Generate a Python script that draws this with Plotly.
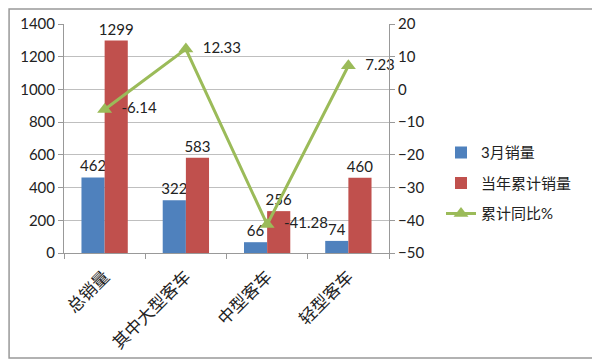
import plotly.graph_objects as go

categories = ["总销量", "其中大型客车", "中型客车", "轻型客车"]
march_sales = [462, 322, 66, 74]
ytd_sales = [1299, 583, 256, 460]
ytd_yoy = [-6.14, 12.33, -41.28, 7.23]

FONT = "Lato, 'Noto Sans CJK SC', sans-serif"
NB = "\u00a0\u00a0"

fig = go.Figure()
fig.add_trace(go.Bar(
    x=categories, y=march_sales, name="3月销量", legendgroup="a",
    marker=dict(color="#4F81BD", line=dict(width=0)),
    text=[str(v) for v in march_sales], textposition="outside",
    constraintext="none",
    textfont=dict(size=15, color="#222"), cliponaxis=False,
))
fig.add_trace(go.Bar(
    x=categories, y=ytd_sales, name="当年累计销量", legendgroup="b",
    marker=dict(color="#C0504D", line=dict(width=0)),
    text=[str(v) for v in ytd_sales], textposition="outside",
    constraintext="none",
    textfont=dict(size=15, color="#222"), cliponaxis=False,
))
fig.add_trace(go.Scatter(
    x=categories, y=ytd_yoy, name="累计同比%", yaxis="y2", legendgroup="c",
    mode="lines+markers+text",
    line=dict(color="#9BBB59", width=3),
    marker=dict(symbol="triangle-up", size=13, color="#9BBB59"),
    text=[NB + f"{v:.2f}" for v in ytd_yoy], textposition="middle right",
    textfont=dict(size=15, color="#222"), cliponaxis=False,
))

fig.update_layout(
    width=600, height=362,
    margin=dict(l=56, r=219, t=16, b=117, autoexpand=False),
    paper_bgcolor="white", plot_bgcolor="white",
    font=dict(family=FONT, size=15, color="#222"),
    barmode="group", bargap=0.43, bargroupgap=0,
    showlegend=True,
    legend=dict(x=1.16, y=0.51, xanchor="left", yanchor="top",
                font=dict(size=15), bgcolor="rgba(0,0,0,0)",
                tracegroupgap=8),
    xaxis=dict(
        type="category", tickangle=-45, tickson="boundaries",
        ticks="outside", ticklen=5, tickcolor="#999",
        showline=True, linecolor="#999", linewidth=1,
        ticklabelstandoff=6,
        tickfont=dict(size=17, family="'Noto Sans CJK SC', sans-serif"),
    ),
    yaxis=dict(
        range=[0, 1400], dtick=200, showgrid=True, gridcolor="#BFBFBF",
        showline=True, linecolor="#999", ticks="outside", ticklen=5,
        tickcolor="#999", zeroline=False, tickfont=dict(size=15),
    ),
    yaxis2=dict(
        range=[-50, 20], dtick=10, overlaying="y", side="right",
        showgrid=False, showline=True, linecolor="#999", ticks="outside",
        ticklen=5, tickcolor="#999", zeroline=False, tickfont=dict(size=15),
    ),
    shapes=[dict(type="rect", xref="paper", yref="paper",
                 x0=-0.1690, x1=1.6277, y0=-0.4585, y1=1.0655,
                 line=dict(color="#999", width=1.5))],
)

fig.write_html("out.html")
